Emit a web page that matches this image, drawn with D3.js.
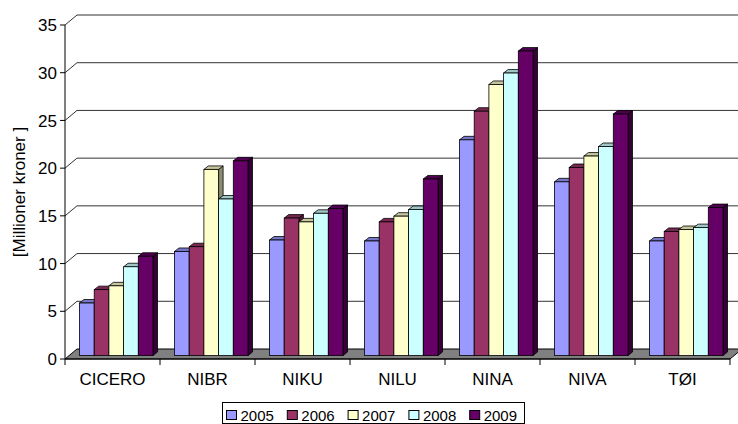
<!DOCTYPE html>
<html>
<head>
<meta charset="utf-8">
<script src="https://cdn.jsdelivr.net/npm/d3@7"></script>
<style>
  html, body { margin: 0; padding: 0; background: #fff; }
  svg { display: block; font-family: Arial, "Liberation Sans", sans-serif; }
</style>
</head>
<body>
<svg id="chart" width="738" height="424"></svg>
<script>
// Institutes and yearly figures (millions of NOK)
const categories = ["CICERO", "NIBR", "NIKU", "NILU", "NINA", "NIVA", "TØI"];
const years = ["2005", "2006", "2007", "2008", "2009"];
const values2005 = [5.5, 10.9, 12.1, 12.0, 22.6, 18.2, 12.0];
const values2006 = [6.9, 11.4, 14.4, 14.0, 25.6, 19.7, 13.0];
const values2007 = [7.3, 19.5, 14.0, 14.6, 28.4, 20.9, 13.2];
const values2008 = [9.3, 16.4, 14.9, 15.3, 29.6, 21.9, 13.4];
const values2009 = [10.4, 20.4, 15.4, 18.5, 31.9, 25.3, 15.5];
const yTicks = [0, 5, 10, 15, 20, 25, 30, 35];
const yTitle = "[Millioner kroner ]";

const seriesValues = [values2005, values2006, values2007, values2008, values2009];
const colors = ["#9999FF", "#993366", "#FFFFCC", "#CCFFFF", "#660066"];

const svg = d3.select("#chart");

// Plot geometry (front plane) and 3D depth offsets
const plotLeft = 65, plotRight = 730, plotTop = 25, plotBottom = 359;
const depth = { x: 12, y: 10 };       // full floor depth
const barShift = { x: 0, y: 3.5 };     // bars sit partway back on the floor
const barDepth = { x: 4.5, y: 3.5 };   // thickness of each column

const y = d3.scaleLinear().domain([0, 35]).range([plotBottom, plotTop]);
const x0 = d3.scaleBand().domain(categories).range([plotLeft, plotRight]).padding(0);
const x1 = d3.scaleBand().domain(years).range([14.5, 88]).padding(0);

// Side wall + back wall gridlines
const grid = svg.append("g");
yTicks.forEach(t => {
  if (t === 0) return;
  const yy = y(t);
  grid.append("line")
    .attr("x1", plotLeft).attr("y1", yy)
    .attr("x2", plotLeft + depth.x).attr("y2", yy - depth.y)
    .attr("stroke", "#333").attr("stroke-width", 1);
  grid.append("line")
    .attr("x1", plotLeft + depth.x).attr("y1", yy - depth.y)
    .attr("x2", 738).attr("y2", yy - depth.y)
    .attr("stroke", "#333").attr("stroke-width", 1);
});

// Floor
svg.append("path")
  .attr("d", `M${plotLeft},${plotBottom} L${plotRight},${plotBottom} L${plotRight + depth.x},${plotBottom - depth.y} L${plotLeft + depth.x},${plotBottom - depth.y} Z`)
  .attr("fill", "#808080").attr("stroke", "#000").attr("stroke-width", 1);

// Columns
function shade(c, k) {
  const col = d3.rgb(c);
  return d3.rgb(col.r * k, col.g * k, col.b * k).toString();
}

const bars = svg.append("g");
categories.forEach((cat, ci) => {
  years.forEach((yr, si) => {
    const v = seriesValues[si][ci];
    const xl = x0(cat) + x1(yr) + barShift.x;
    const w = x1.bandwidth();
    const yt = y(v) - barShift.y;
    const yb = y(0) - barShift.y;
    const dx = barDepth.x, dy = barDepth.y;
    const c = colors[si];
    // side face
    bars.append("path")
      .attr("d", `M${xl + w},${yt} L${xl + w + dx},${yt - dy} L${xl + w + dx},${yb - dy} L${xl + w},${yb} Z`)
      .attr("fill", shade(c, 0.55)).attr("stroke", "#000").attr("stroke-width", 0.8)
      .attr("stroke-linejoin", "round");
    // top face
    bars.append("path")
      .attr("d", `M${xl},${yt} L${xl + w},${yt} L${xl + w + dx},${yt - dy} L${xl + dx},${yt - dy} Z`)
      .attr("fill", shade(c, 0.78)).attr("stroke", "#000").attr("stroke-width", 0.8)
      .attr("stroke-linejoin", "round");
    // front face
    bars.append("rect")
      .attr("x", xl).attr("y", yt)
      .attr("width", w).attr("height", yb - yt)
      .attr("fill", c).attr("stroke", "#000").attr("stroke-width", 0.8);
  });
});

// Value axis
const yAxis = svg.append("g");
yAxis.append("line")
  .attr("x1", plotLeft).attr("y1", plotTop).attr("x2", plotLeft).attr("y2", plotBottom)
  .attr("stroke", "#000");
yTicks.forEach(t => {
  yAxis.append("line")
    .attr("x1", plotLeft - 5).attr("x2", plotLeft)
    .attr("y1", y(t)).attr("y2", y(t))
    .attr("stroke", "#000");
  yAxis.append("text")
    .attr("x", plotLeft - 8).attr("y", y(t))
    .attr("dy", "0.36em")
    .attr("text-anchor", "end")
    .attr("font-size", 17)
    .attr("fill", "#000")
    .text(t);
});

// Category axis
const xAxis = svg.append("g");
xAxis.append("line")
  .attr("x1", plotLeft).attr("y1", plotBottom).attr("x2", plotRight).attr("y2", plotBottom)
  .attr("stroke", "#000");
const tickXs = categories.map(c => x0(c)).concat([plotRight]);
tickXs.forEach(tx => {
  xAxis.append("line")
    .attr("x1", tx).attr("x2", tx)
    .attr("y1", plotBottom).attr("y2", plotBottom + 6)
    .attr("stroke", "#000");
});
categories.forEach(c => {
  xAxis.append("text")
    .attr("x", x0(c) + x0.bandwidth() / 2)
    .attr("y", 385)
    .attr("text-anchor", "middle")
    .attr("font-size", 17)
    .attr("fill", "#000")
    .text(c);
});

// Axis title
svg.append("text")
  .attr("transform", `translate(25,192) rotate(-90)`)
  .attr("text-anchor", "middle")
  .attr("font-size", 17)
  .attr("fill", "#000")
  .text(yTitle);

// Legend
const legend = svg.append("g");
legend.append("rect")
  .attr("x", 222.5).attr("y", 402.5)
  .attr("width", 302).attr("height", 21)
  .attr("fill", "#fff").attr("stroke", "#000").attr("stroke-width", 1);
years.forEach((yr, i) => {
  const lx = 226 + i * 60.8;
  legend.append("rect")
    .attr("x", lx + 0.5).attr("y", 410.5)
    .attr("width", 10).attr("height", 9)
    .attr("fill", colors[i]).attr("stroke", "#000").attr("stroke-width", 1);
  legend.append("text")
    .attr("x", lx + 14.5).attr("y", 420.5)
    .attr("font-size", 15)
    .attr("fill", "#000")
    .text(yr);
});
</script>
</body>
</html>
